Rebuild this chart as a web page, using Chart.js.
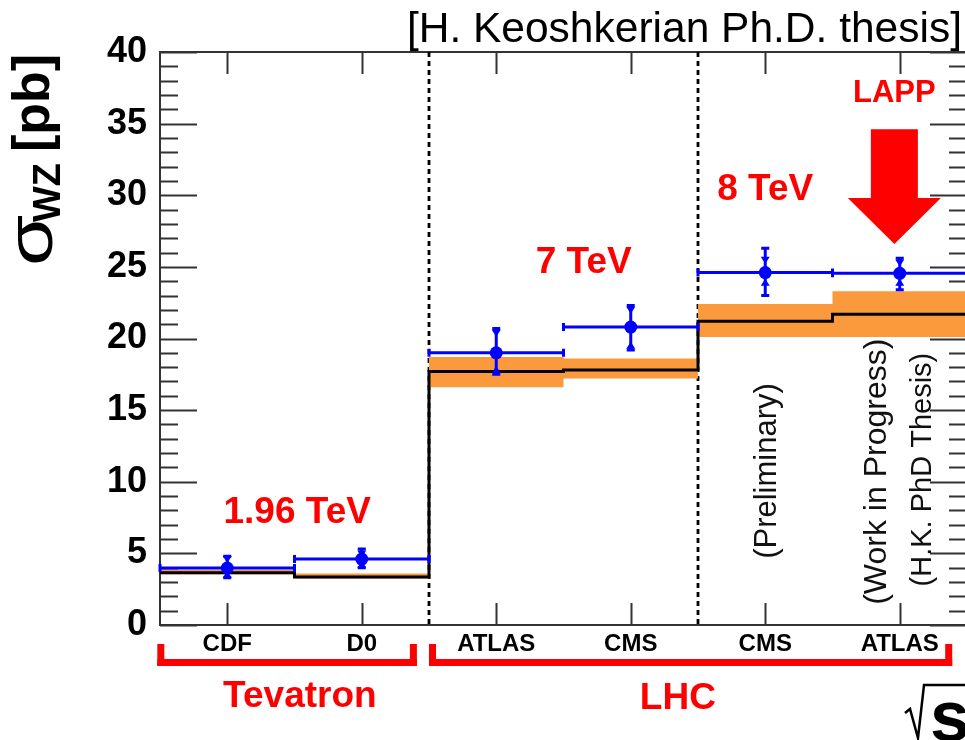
<!DOCTYPE html>
<html>
<head>
<meta charset="utf-8">
<script src="https://cdn.jsdelivr.net/npm/chart.js@4.4.1/dist/chart.umd.min.js"></script>
<style>
  html, body { margin: 0; padding: 0; background: #fff; overflow: hidden; }
  #wrap { width: 980px; height: 740px; }
</style>
</head>
<body>
<div id="wrap"><canvas id="c" width="980" height="740"></canvas></div>
<script>
// WZ cross sections per experiment, one bin each
const experiments = ['CDF', 'D0', 'ATLAS', 'CMS', 'CMS', 'ATLAS'];
const sigma    = [3.98, 4.6, 19.0, 20.8, 24.6, 24.55];
const sigmaHi  = [4.8, 5.3, 20.7, 22.3, 26.3, 25.6];
const sigmaLo  = [3.3, 4.0, 17.5, 19.2, 23.0, 23.4];
const statHi   = [4.6, 5.0, 20.4, 22.0, 25.5, 25.3];
const statLo   = [3.5, 4.2, 17.8, 19.5, 23.9, 23.9];
const theory   = [3.65, 3.35, 17.7, 17.8, 21.2, 21.7];
const theoryHi = [3.85, 3.6, 18.7, 18.6, 22.4, 23.3];
const theoryLo = [3.55, 3.25, 16.6, 17.2, 20.1, 20.1];
const separators = [2, 4];

const FONT = "'Liberation Sans', Arial, Helvetica, sans-serif";
const RED = '#ff0000';
const BLUE = '#0000ff';
const ORANGE = '#fb9a3c';
const AXIS = '#333333';

Chart.defaults.font.family = FONT;

// stepped curve: one point per bin edge, last value repeated at the end
function steps(vals) {
  const pts = vals.map((v, i) => ({ x: i, y: v }));
  pts.push({ x: vals.length, y: vals[vals.length - 1] });
  return pts;
}

// ROOT-style frame: ticks pointing inwards on all four sides, dashed energy separators
const frame = {
  id: 'frame',
  beforeDatasetsDraw(chart) {
    const { ctx, chartArea: a, scales: { x, y } } = chart;
    ctx.save();
    ctx.strokeStyle = AXIS;
    ctx.lineWidth = 2;
    ctx.beginPath();
    for (let v = y.min; v <= y.max; v += 1) {
      const py = Math.round(y.getPixelForValue(v)) + 0.5;
      const len = v % 5 === 0 ? 37 : 18;
      ctx.moveTo(a.left, py); ctx.lineTo(a.left + len, py);
      ctx.moveTo(a.right, py); ctx.lineTo(a.right - len, py);
    }
    x.ticks.forEach(t => {
      const px = Math.round(x.getPixelForValue(t.value)) + 0.5;
      ctx.moveTo(px, a.bottom); ctx.lineTo(px, a.bottom - 22);
      ctx.moveTo(px, a.top); ctx.lineTo(px, a.top + 22);
    });
    ctx.stroke();
    ctx.strokeRect(a.left, a.top, a.right - a.left, a.bottom - a.top);

    ctx.strokeStyle = '#000';
    ctx.lineWidth = 2.8;
    ctx.setLineDash([5, 4]);
    ctx.beginPath();
    separators.forEach(s => {
      const px = x.getPixelForValue(s);
      ctx.moveTo(px, a.top); ctx.lineTo(px, a.bottom);
    });
    ctx.stroke();
    ctx.restore();
  }
};

// measurement: bin-wide horizontal bar plus vertical total / stat uncertainties
const errorBars = {
  id: 'errorBars',
  beforeDatasetDraw(chart, args) {
    if (args.index !== 0) return;
    const { ctx, scales: { x, y } } = chart;
    ctx.save();
    ctx.strokeStyle = BLUE;
    ctx.fillStyle = BLUE;
    ctx.lineWidth = 3;
    sigma.forEach((v, i) => {
      const x0 = x.getPixelForValue(i);
      const x1 = x.getPixelForValue(i + 1);
      const xc = x.getPixelForValue(i + 0.5);
      const py = y.getPixelForValue(v);
      const hi = y.getPixelForValue(sigmaHi[i]);
      const lo = y.getPixelForValue(sigmaLo[i]);
      ctx.beginPath();
      ctx.moveTo(x0, py); ctx.lineTo(x1, py);
      ctx.moveTo(x0, py - 4); ctx.lineTo(x0, py + 4);
      ctx.moveTo(x1, py - 4); ctx.lineTo(x1, py + 4);
      ctx.moveTo(xc, hi); ctx.lineTo(xc, lo);
      ctx.moveTo(xc - 4, hi); ctx.lineTo(xc + 4, hi);
      ctx.moveTo(xc - 4, lo); ctx.lineTo(xc + 4, lo);
      ctx.stroke();
      const sh = y.getPixelForValue(statHi[i]);
      const sl = y.getPixelForValue(statLo[i]);
      ctx.beginPath();
      ctx.moveTo(xc - 4.5, sh - 3); ctx.lineTo(xc + 4.5, sh - 3); ctx.lineTo(xc, sh + 4); ctx.closePath();
      ctx.moveTo(xc - 4.5, sl + 3); ctx.lineTo(xc + 4.5, sl + 3); ctx.lineTo(xc, sl - 4); ctx.closePath();
      ctx.fill();
    });
    ctx.restore();
  }
};

function text(ctx, str, x, y, font, color, align = 'center', base = 'middle') {
  ctx.font = font;
  ctx.fillStyle = color;
  ctx.textAlign = align;
  ctx.textBaseline = base;
  ctx.fillText(str, x, y);
}

function vtext(ctx, str, x, y, font, color) {
  ctx.save();
  ctx.translate(x, y);
  ctx.rotate(-Math.PI / 2);
  text(ctx, str, 0, 0, font, color);
  ctx.restore();
}

const labels = {
  id: 'labels',
  afterDraw(chart) {
    const { ctx, chartArea: a, scales: { x, y } } = chart;
    ctx.save();

    // title
    text(ctx, '[H. Keoshkerian Ph.D. thesis]', 962, 42, '42.5px ' + FONT, '#000', 'right', 'alphabetic');

    // y axis title: sigma_WZ [pb]
    ctx.save();
    ctx.translate(52, 266);
    ctx.rotate(-Math.PI / 2);
    ctx.textAlign = 'left';
    ctx.textBaseline = 'alphabetic';
    ctx.fillStyle = '#000';
    ctx.save();
    ctx.scale(1.3, 1);
    ctx.font = '64px ' + FONT;
    ctx.fillText('σ', 0, 0);
    ctx.restore();
    ctx.font = 'bold 38px ' + FONT;
    ctx.fillText('WZ', 44, 8);
    ctx.font = 'bold 52px ' + FONT;
    ctx.fillText('[pb]', 114, -3);
    ctx.restore();

    // energies
    const bold37 = 'bold 37px ' + FONT;
    text(ctx, '1.96 TeV', x.getPixelForValue(1.02), y.getPixelForValue(7.85), bold37, RED);
    text(ctx, '7 TeV', x.getPixelForValue(3.15), y.getPixelForValue(25.3), bold37, RED);
    text(ctx, '8 TeV', x.getPixelForValue(4.5), y.getPixelForValue(30.4), bold37, RED);
    text(ctx, 'LAPP', x.getPixelForValue(5.46), y.getPixelForValue(37.1), 'bold 31px ' + FONT, RED);

    // arrow pointing at the LAPP measurement
    const ax = x.getPixelForValue(5.46);
    const aTop = y.getPixelForValue(34.6);
    const aNeck = y.getPixelForValue(29.8);
    const aTip = y.getPixelForValue(26.6);
    ctx.fillStyle = RED;
    ctx.beginPath();
    ctx.moveTo(ax - 23.5, aTop);
    ctx.lineTo(ax + 23.5, aTop);
    ctx.lineTo(ax + 23.5, aNeck);
    ctx.lineTo(ax + 46.5, aNeck);
    ctx.lineTo(ax, aTip);
    ctx.lineTo(ax - 46.5, aNeck);
    ctx.lineTo(ax - 23.5, aNeck);
    ctx.closePath();
    ctx.fill();

    // status notes
    vtext(ctx, '(Preliminary)', x.getPixelForValue(4.52), y.getPixelForValue(10.75), '31px ' + FONT, '#111');
    vtext(ctx, '(Work in Progress)', x.getPixelForValue(5.33), y.getPixelForValue(10.7), '32px ' + FONT, '#111');
    vtext(ctx, '(H.K. PhD Thesis)', x.getPixelForValue(5.67), y.getPixelForValue(10.85), '29px ' + FONT, '#111');

    // collider brackets
    ctx.fillStyle = RED;
    const bracket = (from, to) => {
      const l = x.getPixelForValue(from), r = x.getPixelForValue(to);
      ctx.fillRect(l, a.bottom + 19, 7, 22);
      ctx.fillRect(r - 7, a.bottom + 19, 7, 22);
      ctx.fillRect(l, a.bottom + 34, r - l, 7);
    };
    bracket(-0.02, 1.91);
    bracket(2.0, 5.89);
    text(ctx, 'Tevatron', x.getPixelForValue(1.04), a.bottom + 72, bold37, RED);
    text(ctx, 'LHC', x.getPixelForValue(3.85), a.bottom + 74, bold37, RED);

    // sqrt(s) axis title, partly outside the window
    ctx.strokeStyle = '#000';
    ctx.lineWidth = 2.5;
    ctx.beginPath();
    ctx.moveTo(905, 713); ctx.lineTo(910, 709); ctx.lineTo(918, 738); ctx.lineTo(924, 685); ctx.lineTo(980, 685);
    ctx.stroke();
    text(ctx, 's', 930, 741, 'bold 72px ' + FONT, '#000', 'left', 'alphabetic');

    ctx.restore();
  }
};

new Chart(document.getElementById('c'), {
  type: 'scatter',
  data: {
    datasets: [
      {
        label: 'measured',
        data: sigma.map((v, i) => ({ x: i + 0.5, y: v })),
        pointRadius: 6.5,
        pointBackgroundColor: BLUE,
        pointBorderWidth: 0,
        showLine: false
      },
      {
        label: 'theory',
        type: 'line',
        data: steps(theory),
        stepped: true,
        borderColor: '#000',
        borderWidth: 3,
        pointRadius: 0,
        fill: false
      },
      {
        label: 'theory up',
        type: 'line',
        data: steps(theoryHi),
        stepped: true,
        borderWidth: 0,
        borderColor: 'rgba(0,0,0,0)',
        backgroundColor: ORANGE,
        pointRadius: 0,
        fill: '+1'
      },
      {
        label: 'theory down',
        type: 'line',
        data: steps(theoryLo),
        stepped: true,
        borderWidth: 0,
        borderColor: 'rgba(0,0,0,0)',
        pointRadius: 0,
        fill: false
      }
    ]
  },
  options: {
    responsive: false,
    devicePixelRatio: 1,
    animation: false,
    layout: { padding: { left: 0, top: 52, right: 13, bottom: 0 } },
    plugins: { legend: { display: false }, tooltip: { enabled: false } },
    scales: {
      x: {
        type: 'linear',
        min: 0,
        max: 6,
        afterFit(s) { s.height = 115; },
        afterBuildTicks(s) { s.ticks = experiments.map((_, i) => ({ value: i + 0.5 })); },
        ticks: {
          callback: (v, i) => experiments[i],
          font: { size: 24, weight: 'bold' },
          color: '#000',
          padding: 5,
          maxRotation: 0,
          autoSkip: false
        },
        grid: { display: false, drawTicks: false },
        border: { display: false }
      },
      y: {
        min: 0,
        max: 40,
        afterFit(s) { s.width = 160; },
        ticks: {
          stepSize: 5,
          font: { size: 36, weight: 'bold' },
          color: '#000',
          padding: 13
        },
        grid: { display: false, drawTicks: false },
        border: { display: false }
      }
    }
  },
  plugins: [frame, errorBars, labels]
});
</script>
</body>
</html>
